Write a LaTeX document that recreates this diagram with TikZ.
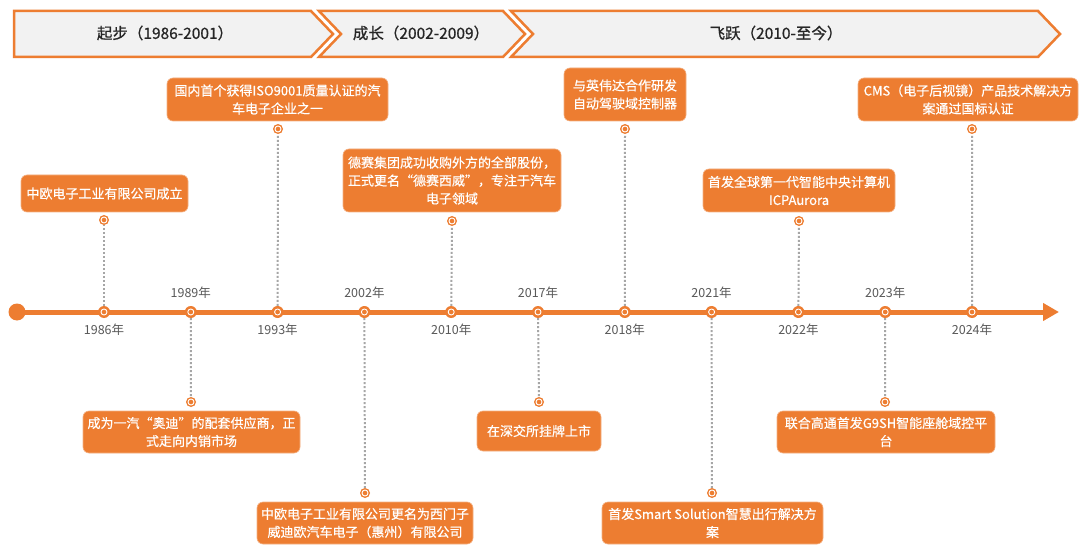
\documentclass[tikz,border=0pt]{standalone}
\usepackage{fontspec}
\setmainfont{Noto Sans CJK SC}
\newfontfamily\boxfont{Noto Sans CJK SC}[FakeBold=0.6]
\newfontfamily\headfont{Noto Sans CJK SC}[FakeBold=0.9]
\usetikzlibrary{arrows.meta}
\definecolor{mOrange}{HTML}{ED7D31}
\definecolor{mPanel}{HTML}{F2F2F2}
\definecolor{mText}{HTML}{595959}
\definecolor{mDots}{HTML}{A6A6A6}
\definecolor{mDark}{HTML}{262626}

\begin{document}
\begin{tikzpicture}[x=1pt, y=-1pt,
  every node/.style={font=\fontsize{12.5}{14}\selectfont},
  phase/.style={draw=mOrange, fill=mPanel, line width=2.5pt, line join=miter},
  phaselabel/.style={font=\headfont\fontsize{15.5}{18}\selectfont, text=mDark},
  dotmark/.style={circle, fill=mOrange, minimum size=12pt, inner sep=0pt,
    path picture={\draw[white, line width=0.9pt] (path picture bounding box.center) circle (3pt);}},
  smalldot/.style={dotmark, minimum size=10pt},
  yearlabel/.style={text=mText, inner sep=1pt},
  eventbox/.style={fill=mOrange, draw=mOrange!60!white, line width=0.6pt, rounded corners=6pt,
    text=white, align=center, inner sep=0pt, font=\boxfont\fontsize{13}{18}\selectfont},
  leader/.style={draw=mDots, line width=2pt, dash pattern=on 2pt off 2pt},
]
  % Canvas
  \useasboundingbox[fill=white] (0,0) rectangle (1081,545);

  % Phase banners
  \draw[phase] (14,11) -- (311,11) -- (333,34) -- (311,57) -- (14,57) -- cycle;
  \draw[phase] (319,11) -- (503,11) -- (525,34) -- (503,57) -- (319,57) -- (341,34) -- cycle;
  \draw[phase] (511,11) -- (1038,11) -- (1060,34) -- (1038,57) -- (511,57) -- (533,34) -- cycle;
  \node[phaselabel] (p1) at (165,33) {起步（1986-2001）};
  \node[phaselabel] (p2) at (421,33) {成长（2002-2009）};
  \node[phaselabel] (p3) at (776,33) {飞跃（2010-至今）};

  % Time axis
  \node[circle, fill=mOrange, minimum size=17pt, inner sep=0pt] (start) at (17,312) {};
  \coordinate (tip) at (1059,312);
  \draw[mOrange, line width=5pt, -{Triangle[length=16pt, width=17pt]}] (start.center) -- (tip);

  % Year marks on the axis
  \foreach \yr/\i/\dy in {1986/0/18, 1989/1/-19, 1993/2/18, 2002/3/-19, 2010/4/18, 2017/5/-19,
                          2018/6/18, 2021/7/-19, 2022/8/18, 2023/9/-19, 2024/10/18} {
    \node[dotmark] (y\yr) at ({104+86.8*\i},312) {};
    \node[yearlabel] (l\yr) at ({104+86.8*\i},312+\dy) {\yr{}年};
  }

  % Events above the axis
  \node[eventbox, minimum width=167pt, minimum height=37pt] (e1986) at (104.5,193.5)
    {中欧电子工业有限公司成立};
  \node[smalldot] (d1986) at (104,220) {};

  \node[eventbox, minimum width=221pt, minimum height=43pt] (e1993) at (277.5,99.5)
    {国内首个获得ISO9001质量认证的汽\\车电子企业之一};
  \node[smalldot] (d1993) at (278,129) {};

  \node[eventbox, minimum width=218pt, minimum height=63pt] (e2010) at (452,180.5)
    {德赛集团成功收购外方的全部股份，\\正式更名“德赛西威”，专注于汽车\\电子领域};
  \node[smalldot] (d2010) at (452,221) {};

  \node[eventbox, minimum width=122pt, minimum height=53pt] (e2018) at (625,94.5)
    {与英伟达合作研发\\自动驾驶域控制器};
  \node[smalldot] (d2018) at (625,129) {};

  \node[eventbox, minimum width=192pt, minimum height=43pt] (e2022) at (799,190.5)
    {首发全球第一代智能中央计算机\\ICPAurora};
  \node[smalldot] (d2022) at (799,221) {};

  \node[eventbox, minimum width=220pt, minimum height=43pt] (e2024) at (968,99.5)
    {CMS（电子后视镜）产品技术解决方\\案通过国标认证};
  \node[smalldot] (d2024) at (972,129) {};

  % Events below the axis
  \node[smalldot] (d1989) at (191,402) {};
  \node[eventbox, minimum width=217pt, minimum height=42pt] (e1989) at (191.5,432)
    {成为一汽“奥迪”的配套供应商，正\\式走向内销市场};

  \node[smalldot] (d2002) at (365,493) {};
  \node[eventbox, minimum width=216pt, minimum height=42pt] (e2002) at (365,523)
    {中欧电子工业有限公司更名为西门子\\威迪欧汽车电子（惠州）有限公司};

  \node[smalldot] (d2017) at (539,402) {};
  \node[eventbox, minimum width=124pt, minimum height=40pt] (e2017) at (539,431)
    {在深交所挂牌上市};

  \node[smalldot] (d2021) at (712,493) {};
  \node[eventbox, minimum width=221pt, minimum height=42pt] (e2021) at (712.5,523)
    {首发Smart Solution智慧出行解决方\\案};

  \node[smalldot] (d2023) at (885,402) {};
  \node[eventbox, minimum width=218pt, minimum height=42pt] (e2023) at (886,432)
    {联合高通首发G9SH智能座舱域控平\\台};

  % Leaders from axis to events
  \foreach \yr in {1986,1989,1993,2002,2010,2017,2018,2021,2022,2023,2024} {
    \draw[leader] (y\yr) -- (d\yr);
  }
\end{tikzpicture}
\end{document}
